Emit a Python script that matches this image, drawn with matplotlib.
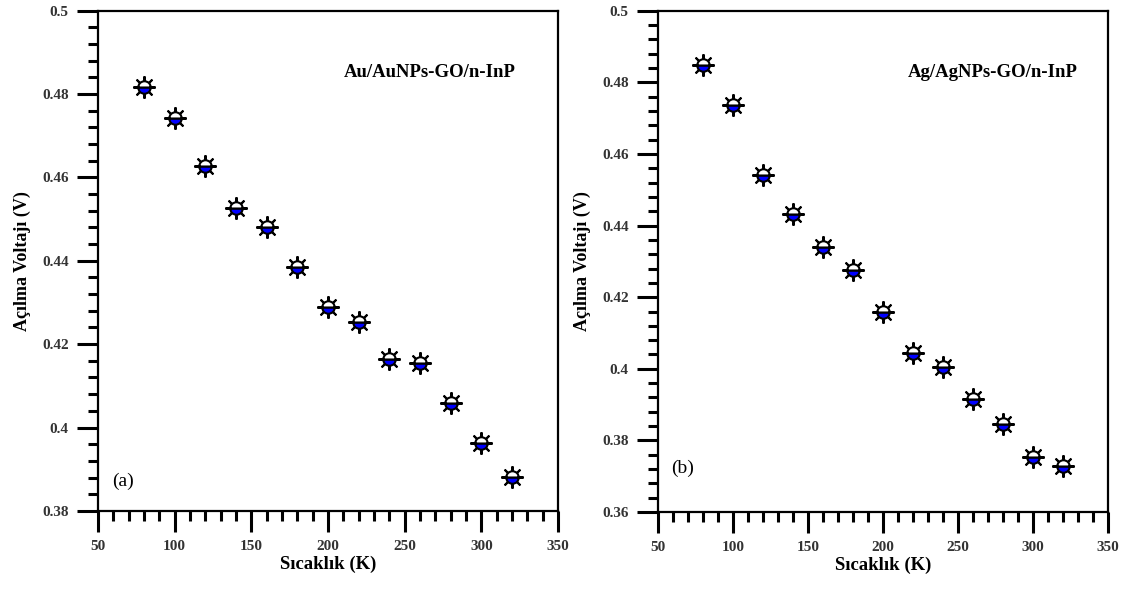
import matplotlib.pyplot as plt
from matplotlib.ticker import MultipleLocator, FuncFormatter

# temperatures (K) and open-circuit voltages (V)
temp = [80, 100, 120, 140, 160, 180, 200, 220, 240, 260, 280, 300, 320]
voc_au = [0.4817, 0.4743, 0.4627, 0.4527, 0.4481, 0.4385, 0.4289,
          0.4253, 0.4164, 0.4154, 0.4058, 0.3963, 0.3881]
voc_ag = [0.4849, 0.4737, 0.4542, 0.4433, 0.4341, 0.4277, 0.4160,
          0.4045, 0.4004, 0.3917, 0.3845, 0.3753, 0.3730]

labels = ['Au/AuNPs-GO/n-InP', 'Ag/AgNPs-GO/n-InP']
panels = ['(a)', '(b)']
ylims = [(0.38, 0.5), (0.36, 0.5)]

plt.rcParams['font.family'] = ['Liberation Serif', 'DejaVu Serif']

fig = plt.figure(figsize=(11.3, 5.92), dpi=100)
ax1 = fig.add_axes([0.0867, 0.137, 0.4071, 0.845])
ax2 = fig.add_axes([0.5823, 0.135, 0.3982, 0.847])

for ax, voc, lab, pan, yl, tx, ty, py in [
        (ax1, voc_au, labels[0], panels[0], ylims[0], 0.722, 0.877, 0.06),
        (ax2, voc_ag, labels[1], panels[1], ylims[1], 0.744, 0.876, 0.087)]:
    # spikes of the symbol
    ax.plot(temp, voc, ls='none', marker=(8, 2, 0), ms=16, mec='black',
            mew=1.5, zorder=3)
    # half filled circle on top
    ax.plot(temp, voc, ls='none', marker='o', ms=9, fillstyle='bottom',
            mfc='#0000ff', mfcalt='white', mec='black', mew=1.5, zorder=4)

    ax.set_xlim(50, 350)
    ax.set_ylim(*yl)
    ax.xaxis.set_major_locator(MultipleLocator(50))
    ax.xaxis.set_minor_locator(MultipleLocator(10))
    ax.yaxis.set_major_locator(MultipleLocator(0.02))
    ax.yaxis.set_minor_locator(MultipleLocator(0.004))
    ax.yaxis.set_major_formatter(FuncFormatter(lambda v, p: '%g' % round(v, 3)))
    ax.tick_params(which='major', direction='out', length=15, width=2.2,
                   labelsize=11, pad=6)
    ax.tick_params(which='minor', direction='out', length=7.5, width=2.2)
    for lbl in ax.get_xticklabels() + ax.get_yticklabels():
        lbl.set_fontweight('bold')
        lbl.set_color('#333333')
    for sp in ax.spines.values():
        sp.set_linewidth(1.6)

    ax.set_xlabel('Sıcaklık (K)', fontsize=13.5, fontweight='bold', labelpad=2)
    ax.set_ylabel('Açılma Voltajı (V)', fontsize=13, fontweight='bold', labelpad=8)
    ax.text(tx, ty, lab, transform=ax.transAxes, fontsize=13.5,
            fontweight='bold', ha='center', va='center')
    ax.text(0.03, py, pan, transform=ax.transAxes, fontsize=14,
            ha='left', va='center')

fig.savefig('out.png', dpi=100)
